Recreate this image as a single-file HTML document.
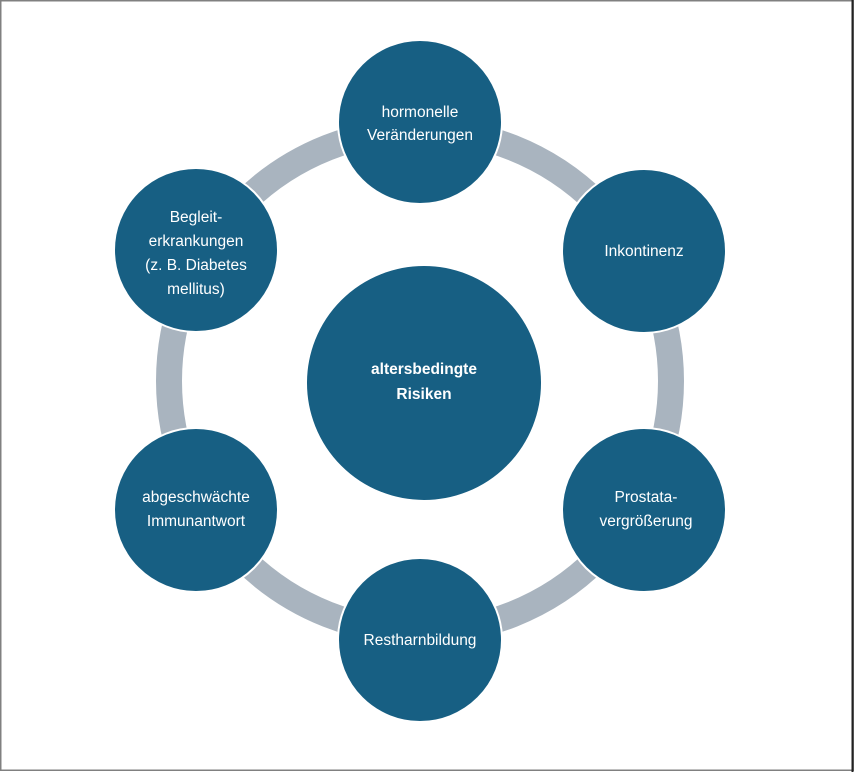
<!DOCTYPE html>
<html><head><meta charset="utf-8"><style>
html,body{margin:0;padding:0;background:#fff}
svg{display:block}
text{font-family:"Liberation Sans",sans-serif;fill:#fff;font-size:15.5px;text-anchor:middle}
</style></head><body>
<svg width="854" height="772" viewBox="0 0 854 772">
<rect x="0.75" y="0.75" width="852.5" height="769.5" fill="#fff" stroke="#808080" stroke-width="1.5"/>
<line x1="852.5" y1="0" x2="852.5" y2="772" stroke="#222" stroke-width="2"/>
<circle cx="420" cy="381" r="251" fill="none" stroke="#a9b4bf" stroke-width="26"/>
<g fill="#175f83" stroke="#fff" stroke-width="2">
<circle cx="420" cy="122" r="82"/>
<circle cx="644" cy="251" r="82"/>
<circle cx="644" cy="510" r="82"/>
<circle cx="420" cy="640" r="82"/>
<circle cx="196" cy="510" r="82"/>
<circle cx="196" cy="250" r="82"/>
<circle cx="424" cy="383" r="118"/>
</g>
<text x="420" y="117">hormonelle</text>
<text x="420" y="140">Veränderungen</text>
<text x="644" y="256">Inkontinenz</text>
<text x="646" y="502">Prostata-</text>
<text x="646" y="526">vergrößerung</text>
<text x="420" y="645">Restharnbildung</text>
<text x="196" y="502">abgeschwächte</text>
<text x="196" y="526">Immunantwort</text>
<text x="196" y="222">Begleit-</text>
<text x="196" y="246">erkrankungen</text>
<text x="196" y="270">(z. B. Diabetes</text>
<text x="196" y="294">mellitus)</text>
<text x="424" y="374" font-weight="bold" font-size="16">altersbedingte</text>
<text x="424" y="399" font-weight="bold" font-size="16">Risiken</text>
</svg>
</body></html>
